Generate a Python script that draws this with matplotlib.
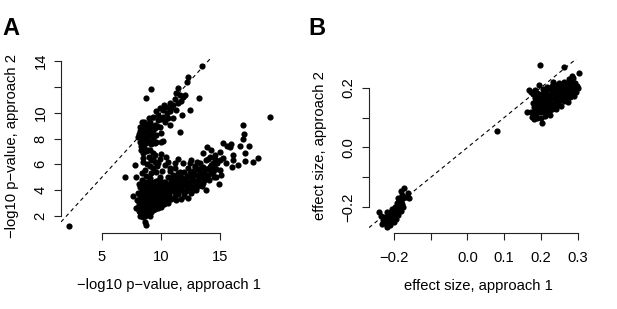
import numpy as np
import matplotlib
matplotlib.use("Agg")
import matplotlib.pyplot as plt

plt.rcParams['font.family'] = ['Liberation Sans', 'DejaVu Sans']

# ---------------- Panel A data (-log10 p-values) ----------------
a_arm = [(8.22,8.92),(8.36,8.53),(8.08,8.14),(8.22,7.75),(8.64,8.01),(8.78,7.62),(8.64,9.05),(8.92,8.79),
         (9.07,9.3),(9.35,8.66),(9.07,8.27),(9.63,8.27),(9.35,7.88),(9.49,9.05),(9.35,9.7),(9.63,10.1),
         (9.77,9.44),(9.92,8.92),(9.92,10.35),(10.2,10.2),(10.05,8.4),(10.2,9.7),(10.2,7.8),(10.34,9.3),
         (10.48,10.47),(10.6,9.57),(10.76,10.73),(10.76,10.13),(10.76,9.05),(11.04,10.6),(11.04,9.57),
         (11.19,11.07),(11.33,10.2),(11.47,10.73),(11.47,11.9),(11.66,11.38),(11.9,11.2),(12.03,11.38),
         (11.83,9.82),(12.5,10.2),(11.6,8.53),(12.25,12.4),(12.3,12.8),(13.53,13.66),(13.21,11.17),
         (9.13,11.82),(8.78,11.12),
         (8.3,8.3),(8.5,8.7),(8.45,7.95),(8.7,8.4),(8.9,8.1),(9.0,8.6),(9.2,9.0),(8.35,7.4),(8.55,7.3),
         (8.9,7.8),(9.2,7.6),(8.6,9.3),(9.5,8.8),(9.7,9.0),(9.8,9.8),(10.0,9.5),(10.5,10.0),(10.9,10.4),
         (11.3,11.5),(11.7,10.9),(8.4,9.3),(9.0,9.6),(10.3,10.6),(8.2,8.6),(9.55,7.7),(8.5,6.9),(8.75,7.0),
         (9.1,7.1),(8.3,7.1),(8.15,8.35),(8.4,8.05),(8.6,7.65),(8.8,9.1),(9.25,8.35),(9.45,8.2)]

a_middle = [(8.64,7.62),(9.49,7.62),(10.05,7.75),(8.36,7.1),(8.92,7.1),(9.49,6.71),(9.2,6.32),(10.48,6.58),
            (9.77,6.07),(7.8,5.94),(8.5,6.19),(8.64,5.55),(9.35,5.68),(10.34,5.94),(10.76,5.68),(11.19,6.07),
            (11.61,5.42),(6.92,4.98),(7.93,5.03),(8.36,4.77),(9.07,4.9),(9.92,5.03),(9.63,4.51),(10.34,4.64),
            (11.19,4.77),(8.92,4.25),(9.0,6.6),(9.3,6.9),(8.8,6.0),(9.1,5.9),(9.5,6.2),(9.9,6.4),(10.1,5.5),
            (8.4,5.3),(8.7,5.1),(9.2,5.3),(9.6,5.4),(10.6,6.2),(8.5,6.5),(9.7,5.9),(10.0,6.8),(9.3,6.4)]

a_core = [(7.65,3.52),(7.93,2.57),(8.22,2.3),(8.64,1.53),(8.78,1.27),(8.22,1.97),(8.0,3.2),(8.1,3.8),
          (8.2,4.2),(8.25,2.8),(8.3,3.5),(8.35,3.0),(8.4,4.0),(8.45,2.5),(8.5,3.3),(8.55,3.8),(8.6,2.9),
          (8.65,4.4),(8.7,3.6),(8.75,2.4),(8.8,3.1),(8.85,4.0),(8.9,2.7),(8.95,3.5),(9.0,4.3),(9.05,3.0),
          (9.1,3.8),(9.15,2.6),(9.2,3.4),(9.25,4.1),(9.3,2.9),(9.35,3.6),(9.4,4.4),(9.45,3.2),(9.5,3.9),
          (9.55,2.8),(9.6,3.5),(9.65,4.2),(9.7,3.0),(9.75,3.7),(9.8,4.5),(9.85,3.3),(9.9,4.0),(9.95,2.9),
          (10.0,3.6),(10.05,4.3),(10.1,3.2),(10.15,3.9),(10.2,4.6),(10.25,3.5),(10.3,4.1),(10.35,3.0),
          (10.4,3.8),(10.45,4.4),(10.5,3.4),(8.3,2.6),(8.5,2.2),(8.6,3.2),(8.9,2.2),(9.0,3.3),(8.4,3.7),
          (8.7,4.1),(9.2,2.3),(9.4,2.7),(9.1,4.6),(8.8,4.6),(8.55,4.6),(9.6,4.7),(8.15,2.4),(8.45,1.9),
          (8.65,2.0),(9.05,2.0),(8.9,3.8),(9.3,3.3),(9.5,2.5),(9.75,2.6),(10.0,2.7),(8.35,4.4),(8.75,3.3),
          (9.15,4.0),(9.85,4.8),(10.1,2.8),(8.2,3.5),(8.45,3.05),(8.95,3.95),(9.35,3.9),(9.55,3.4),
          (9.95,3.45),(10.25,2.9),(10.6,3.0),(10.55,4.0),
          (8.12,3.0),(8.28,3.25),(8.38,2.35),(8.52,2.75),(8.62,3.55),(8.72,2.65),(8.82,3.45),(8.92,3.05),
          (9.02,2.55),(9.12,3.15),(9.22,3.75),(9.32,2.45),(9.42,3.45),(9.52,3.15),(9.62,2.85),(9.72,3.35),
          (9.82,2.95),(9.92,3.75),(10.02,3.15),(10.12,3.55),(10.22,3.25),(10.32,3.65),(10.42,3.15),
          (8.58,4.15),(8.78,4.3),(8.98,4.55),(9.18,4.45),(9.45,4.6),(9.7,4.4),(8.05,2.7),(8.18,4.5)]

a_band = [(10.8,4.2),(10.7,3.6),(10.9,4.8),(11.0,3.9),(11.1,4.5),(11.2,3.5),(11.3,4.9),(11.4,4.1),(11.5,5.3),
          (11.5,3.7),(11.6,4.6),(11.7,5.0),(11.8,4.0),(11.9,4.4),(12.0,5.4),(12.0,3.5),(12.1,4.9),(12.2,4.2),
          (12.3,5.7),(12.4,4.6),(12.46,4.12),(12.5,5.1),(12.6,3.8),(12.7,5.5),(12.8,4.7),(12.9,5.9),(12.9,4.3),
          (13.0,4.0),(13.0,5.2),(13.1,6.2),(13.2,4.8),(13.3,5.5),(13.3,6.07),(13.4,4.5),(13.5,5.0),(13.58,4.51),
          (13.6,5.8),(13.7,5.3),(13.87,4.0),(13.8,6.3),(13.9,5.0),(14.0,5.6),(14.0,6.38),(14.1,4.8),(14.15,5.8),
          (14.2,6.6),(14.3,5.3),(14.43,6.07),(14.5,5.0),(14.6,6.4),(14.7,5.03),(14.7,5.6),(14.8,6.1),
          (14.9,4.46),(15.0,5.55),(15.0,6.32),(15.1,5.2),(15.28,6.46),(15.56,6.07),(12.88,5.8),(12.46,6.07),
          (11.89,6.07),(11.0,5.2),(10.9,3.3),(11.3,3.2),(12.3,3.4),(11.7,3.3),(10.6,5.0),(10.8,5.5),
          (11.2,5.7),(12.6,6.3),(11.5,6.4),(12.1,3.9),(13.5,4.3),(14.4,5.4),(13.0,4.6),(12.7,4.0),
          (11.6,4.3),(10.9,4.0),
          (10.7,4.5),(11.05,4.25),(11.25,4.7),(11.45,4.45),(11.75,4.7),(12.05,4.6),(12.25,5.1),(12.45,5.35),
          (12.65,4.9),(12.85,5.25),(13.05,5.6),(13.25,5.15),(13.45,5.7),(13.65,4.8),(13.85,5.6),(14.05,5.2),
          (14.25,5.95),(14.55,5.8),(11.35,3.9),(11.95,3.8),(12.5,4.4),(13.2,4.3)]

a_outliers = [(19.24,9.64),(16.97,9.02),(17.1,8.32),(16.97,7.93),(15.28,7.62),(15.6,7.44),(15.98,7.55),
              (15.84,7.36),(16.69,7.41),(17.46,7.41),(13.93,7.36),(14.29,7.1),(13.58,6.85),(15.0,6.97),
              (17.14,6.9),(16.13,6.71),(14.58,6.71),(18.25,6.46),(17.82,6.15),(17.12,6.27),(16.13,6.32),
              (16.55,5.94),(16.07,5.8),(14.15,5.8),(2.2,1.17)]

# ---------------- Panel B data (effect sizes) ----------------
b_upper = [(0.198,0.275),(0.263,0.270),(0.305,0.248),(0.286,0.239),(0.288,0.231),(0.233,0.220),
           (0.204,0.083),(0.168,0.192),(0.172,0.187),(0.195,0.209),(0.218,0.203),(0.163,0.120),
           (0.186,0.125),(0.177,0.103),(0.300,0.198),(0.172,0.120),
           (0.180,0.095),(0.190,0.100),(0.200,0.097),(0.210,0.105),
           (0.178,0.115),(0.188,0.112),(0.198,0.118),(0.208,0.120),(0.218,0.115),(0.226,0.110),
           (0.180,0.135),(0.190,0.130),(0.200,0.138),(0.210,0.132),(0.220,0.136),(0.230,0.130),(0.240,0.128),
           (0.178,0.150),(0.187,0.147),(0.196,0.152),(0.205,0.145),(0.215,0.150),(0.225,0.146),(0.235,0.150),
           (0.245,0.143),(0.255,0.140),
           (0.183,0.165),(0.193,0.168),(0.203,0.162),(0.213,0.167),(0.223,0.160),(0.233,0.165),(0.243,0.160),
           (0.253,0.158),(0.263,0.155),(0.273,0.152),
           (0.178,0.180),(0.190,0.182),(0.200,0.178),(0.210,0.184),(0.220,0.176),(0.230,0.182),(0.240,0.176),
           (0.250,0.180),(0.260,0.172),(0.270,0.170),(0.280,0.168),(0.290,0.172),
           (0.185,0.193),(0.205,0.195),(0.215,0.190),(0.225,0.196),(0.235,0.190),(0.245,0.194),(0.255,0.188),
           (0.265,0.192),(0.275,0.185),(0.285,0.188),(0.295,0.185),
           (0.230,0.205),(0.240,0.208),(0.250,0.202),(0.260,0.206),(0.270,0.200),(0.280,0.205),(0.290,0.200),
           (0.298,0.205),
           (0.250,0.215),(0.262,0.218),(0.272,0.214),(0.282,0.220),(0.292,0.215),(0.276,0.228),
           (0.212,0.178),(0.238,0.170),(0.262,0.185),(0.226,0.125),(0.246,0.150),(0.196,0.140),(0.270,0.160),
           (0.184,0.108),(0.194,0.124),(0.204,0.130),(0.214,0.140),(0.232,0.140),(0.250,0.166),(0.266,0.178),
           (0.284,0.196),(0.188,0.158),(0.206,0.172),(0.228,0.172),(0.256,0.196),(0.278,0.176),(0.294,0.208)]

b_lower = [(-0.242,-0.215),(-0.173,-0.134),(-0.182,-0.145),(-0.163,-0.153),(-0.159,-0.170),(-0.168,-0.165),
           (-0.222,-0.254),(-0.231,-0.242),(-0.218,-0.265),
           (-0.225,-0.250),(-0.220,-0.240),(-0.215,-0.252),(-0.212,-0.232),(-0.208,-0.245),(-0.205,-0.225),
           (-0.202,-0.238),(-0.200,-0.215),(-0.197,-0.228),(-0.195,-0.205),(-0.192,-0.220),(-0.190,-0.195),
           (-0.187,-0.210),(-0.185,-0.185),(-0.182,-0.200),(-0.180,-0.178),(-0.177,-0.190),(-0.175,-0.170),
           (-0.210,-0.220),(-0.205,-0.205),(-0.198,-0.198),(-0.192,-0.185),(-0.186,-0.175),(-0.215,-0.230),
           (-0.228,-0.232),(-0.218,-0.215),(-0.195,-0.240),(-0.188,-0.225),(-0.182,-0.212),(-0.176,-0.200),
           (-0.212,-0.258),(-0.200,-0.250),(-0.190,-0.170),(-0.178,-0.160),(-0.232,-0.255),(-0.235,-0.228)]

b_single = [(0.080,0.055)]

a_xticks = [5, 10, 15]
a_xlabels = ['5', '10', '15']
a_yticks = [2, 4, 6, 8, 10, 12, 14]
a_ylabels = ['2', '4', '6', '8', '10', '', '14']
b_xticks = [-0.2, -0.1, 0.0, 0.1, 0.2, 0.3]
b_xlabels = ['\u22120.2', '', '0.0', '0.1', '0.2', '0.3']
b_yticks = [-0.2, -0.1, 0.0, 0.1, 0.2]
b_ylabels = ['\u22120.2', '', '0.0', '', '0.2']

W, H = 617, 309
fig = plt.figure(figsize=(W / 100, H / 100), dpi=100)


def box(l, r, t, b):
    return [l / W, 1 - b / H, (r - l) / W, (b - t) / H]


axA = fig.add_axes(box(61, 277.6, 58.7, 232.5))
axB = fig.add_axes(box(369, 587.5, 58.7, 233.3))

FS = 10.6


def style(ax, xt, xl, yt, yl, xlabel, ylabel):
    for s in ('top', 'right'):
        ax.spines[s].set_visible(False)
    ax.spines['left'].set_bounds(yt[0], yt[-1])
    ax.spines['bottom'].set_bounds(xt[0], xt[-1])
    for s in ('left', 'bottom'):
        ax.spines[s].set_linewidth(0.8)
        ax.spines[s].set_color('#222222')
    ax.set_xticks(xt)
    ax.set_xticklabels(xl)
    ax.set_yticks(yt)
    ax.set_yticklabels(yl, rotation=90, va='center')
    ax.tick_params(direction='out', length=5.2, width=0.8, color='#222222', labelsize=FS)
    ax.tick_params(axis='x', pad=7.5)
    ax.tick_params(axis='y', pad=4.5)
    ax.set_xlabel(xlabel, fontsize=FS, labelpad=10)
    ax.set_ylabel(ylabel, fontsize=FS, labelpad=10.5)
    ax.patch.set_alpha(0)


ms = 20
for grp in (a_arm, a_middle, a_core, a_band, a_outliers):
    arr = np.array(grp)
    axA.scatter(arr[:, 0], arr[:, 1], s=ms, c='black', linewidths=0, zorder=3)
axA.axline((0, 0), slope=1, color='black', lw=0.8, linestyle=(0, (3.5, 3)), zorder=2)
axA.set_xlim(1.52, 19.92)
axA.set_ylim(0.7, 14.2)
style(axA, a_xticks, a_xlabels, a_yticks, a_ylabels,
      '\u2212log10 p\u2212value, approach 1', '\u2212log10 p\u2212value, approach 2')

for grp in (b_upper, b_lower, b_single):
    arr = np.array(grp)
    axB.scatter(arr[:, 0], arr[:, 1], s=ms, c='black', linewidths=0, zorder=3)
axB.axline((0, 0), slope=1, color='black', lw=0.8, linestyle=(0, (3.5, 3)), zorder=2)
axB.set_xlim(-0.268, 0.327)
axB.set_ylim(-0.287, 0.297)
style(axB, b_xticks, b_xlabels, b_yticks, b_ylabels,
      'effect size, approach 1', 'effect size, approach 2')

fig.text(2 / W, 1 - 35 / H, 'A', fontsize=17, fontweight='bold', va='baseline', ha='left')
fig.text(308 / W, 1 - 35 / H, 'B', fontsize=17, fontweight='bold', va='baseline', ha='left')

fig.savefig('out.png', dpi=100)
